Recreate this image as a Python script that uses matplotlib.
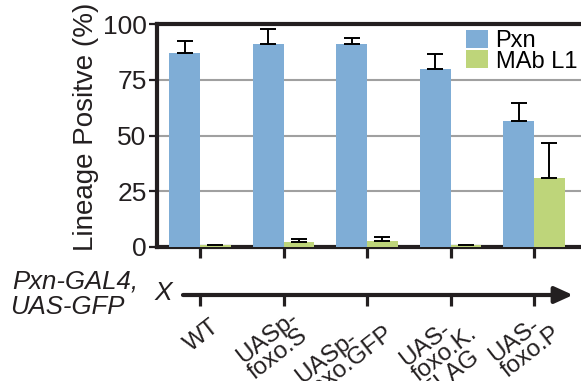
import numpy as np
import matplotlib
matplotlib.use("Agg")
import matplotlib.pyplot as plt
from matplotlib.transforms import ScaledTranslation
from matplotlib.patches import Patch

plt.rcParams['font.family'] = ['Liberation Sans', 'DejaVu Sans']

# ---- data ----
categories = ["WT", "UASp-\nfoxo.S", "UASp-\nfoxo.GFP", "UAS-\nfoxo.K.\nFLAG", "UAS-\nfoxo.P"]
series_names = ["Pxn", "MAb L1"]
pxn_values = [87, 91, 91, 80, 56.5]
pxn_err = [5.5, 6.6, 2.7, 6.4, 7.9]
mab_values = [1.0, 2.1, 2.8, 1.0, 31]
mab_err = [np.nan, 1.3, 1.5, np.nan, 15.8]
yticks = [0, 25, 50, 75, 100]
ylabel = "Lineage Positve (%)"
genotype_lines = ["Pxn-GAL4,", "UAS-GFP"]
cross_symbol = "X"

blue = '#7FADD6'
green = '#BED57A'
dark = '#231f20'

W, H = 581, 381
fig = plt.figure(figsize=(W / 100, H / 100), dpi=100)

# axes geometry (pixels)
left_px, top_px, bottom_px = 157, 24, 247
xlo, xhi = -0.515, 5.0
unit_px = 83.5
ax = fig.add_axes([left_px / W, 1 - bottom_px / H, (xhi - xlo) * unit_px / W, (bottom_px - top_px) / H])

x = np.arange(len(categories))
bw = 0.37
err_kw = dict(ecolor='black', elinewidth=1.4, capsize=6, capthick=1.4)
ax.bar(x - bw / 2, pxn_values, bw, color=blue, zorder=3,
       yerr=[np.zeros(len(x)), pxn_err], error_kw=err_kw, label=series_names[0])
ax.bar(x + bw / 2, mab_values, bw, color=green, zorder=3,
       yerr=[np.zeros(len(x)), mab_err], error_kw=err_kw, label=series_names[1])

ax.set_xlim(xlo, xhi)
ax.set_ylim(0, 100)
ax.set_yticks(yticks)
ax.set_yticklabels([str(t) for t in yticks], fontsize=19, color=dark)
ax.set_xticks(x)
ax.set_xticklabels([])
for t in [25, 50, 75]:
    ax.axhline(t, color='#a0a0a0', lw=1.5, zorder=1)

for s in ['left', 'top', 'bottom']:
    ax.spines[s].set_linewidth(3)
    ax.spines[s].set_color(dark)
ax.spines['right'].set_visible(False)
ax.tick_params(axis='y', direction='out', length=6, width=1.6, pad=1.5, colors=dark)
ax.tick_params(axis='x', direction='out', length=8, width=2.3, colors=dark)

fig.text(86 / W, 1 - 127 / H, ylabel, rotation=90, fontsize=20, color=dark,
         ha='center', va='center')

# legend
handles = [Patch(facecolor=blue, edgecolor='none'), Patch(facecolor=green, edgecolor='none')]
ax.legend(handles, series_names, loc='upper left', bbox_to_anchor=(466 / W, 1 - 30 / H),
          bbox_transform=fig.transFigure, frameon=False, fontsize=17,
          handlelength=0.95, handleheight=0.8, handletextpad=0.3,
          labelspacing=-0.08, borderpad=0, borderaxespad=0)

# genotype arrow axis
arrow_y = 295
ax2 = fig.add_axes([left_px / W, 1 - arrow_y / H, (xhi - xlo) * unit_px / W, 0.01])
ax2.set_xlim(xlo, xhi)
ax2.patch.set_visible(False)
for s in ax2.spines.values():
    s.set_visible(False)
ax2.set_yticks([])
ax2.set_xticks(x)
ax2.set_xticklabels(categories, rotation=38, ha='right', va='top',
                    rotation_mode='anchor', fontsize=17.5, color=dark,
                    multialignment='left', linespacing=0.85)
ax2.tick_params(axis='x', direction='out', length=8, width=2.3, colors=dark, pad=0)
label_offsets_px = [(10, 9), (5, 1), (5, 1), (5, 1), (5, 1)]
for lab, (dx, dy) in zip(ax2.get_xticklabels(), label_offsets_px):
    lab.set_transform(lab.get_transform() + ScaledTranslation(dx / 100, -dy / 100, fig.dpi_scale_trans))
ax2.annotate('', xy=(len(categories) - 0.533, 0), xytext=(-0.204, 0),
             xycoords=('data', 'axes fraction'), textcoords=('data', 'axes fraction'),
             arrowprops=dict(arrowstyle='-|>,head_length=0.55,head_width=0.25',
                             lw=3, color=dark, shrinkA=0, shrinkB=0,
                             mutation_scale=20), annotation_clip=False)

fig.text(12 / W, 1 - 289 / H, genotype_lines[0], fontsize=18.5, style='italic',
         color=dark, ha='left', va='baseline')
fig.text(10 / W, 1 - 314 / H, genotype_lines[1], fontsize=18.5, style='italic',
         color=dark, ha='left', va='baseline')
fig.text(163 / W, 1 - 293 / H, cross_symbol, fontsize=19, style='italic',
         color=dark, ha='center', va='center')

fig.savefig('out.png', dpi=100)
